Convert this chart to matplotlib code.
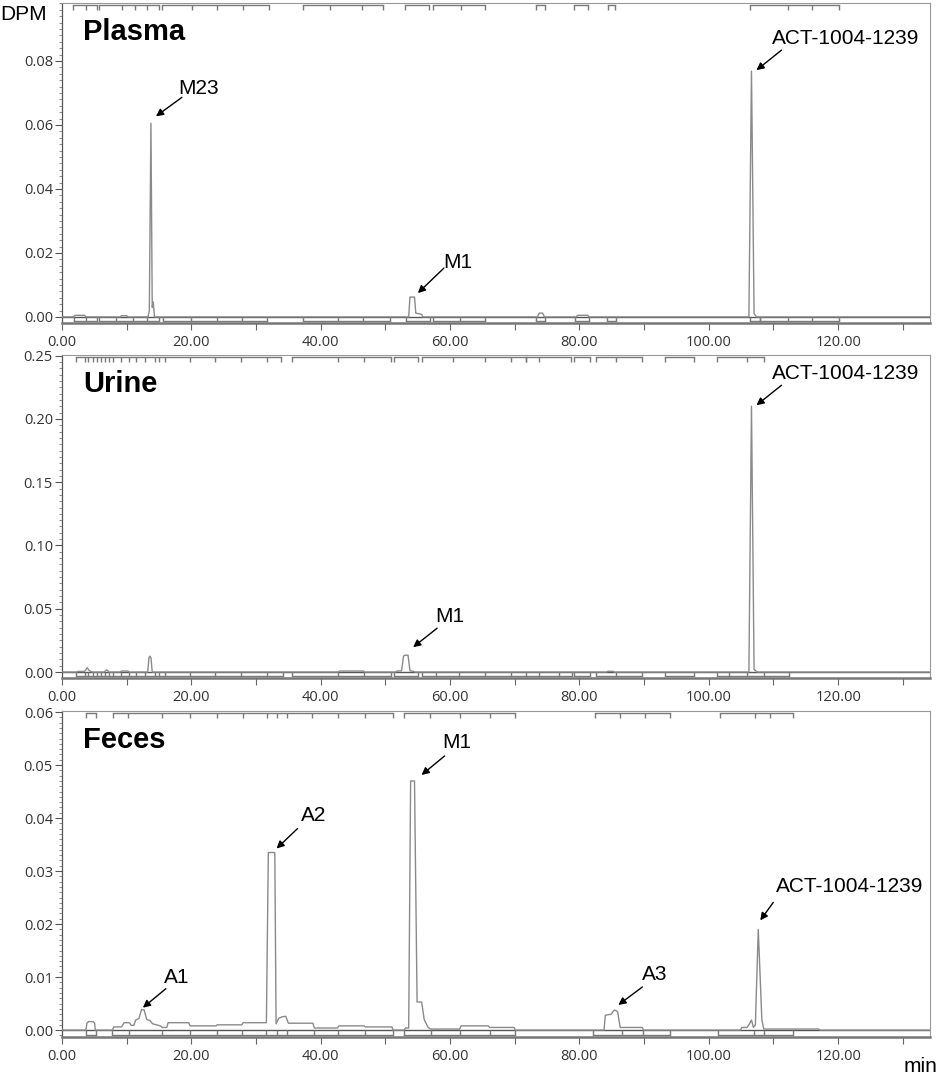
import numpy as np
import matplotlib
matplotlib.use('Agg')
import matplotlib.pyplot as plt
from matplotlib.ticker import MultipleLocator, FuncFormatter
from matplotlib.transforms import offset_copy

# radio-chromatogram traces, (time in min, DPM) breakpoints
plasma_t = [0, 1.8, 2.0, 3.5, 3.7, 9.0, 9.2, 10.0, 10.2, 13.3, 13.5, 13.75, 13.95, 14.1, 14.3,
            53.6, 53.8, 54.5, 54.7, 55.6, 55.8, 73.5, 73.8, 74.3, 74.6, 79.5, 79.7, 81.3, 81.5,
            106.2, 106.6, 107.0, 107.4, 134.2]
plasma_v = [0, 0, 0.0005, 0.0005, 0, 0, 0.0004, 0.0004, 0, 0, 0.002, 0.0605, 0.003, 0.0047, 0,
            0, 0.0062, 0.0062, 0.0012, 0.0008, 0, 0, 0.0012, 0.0012, 0, 0, 0.0005, 0.0005, 0,
            0, 0.0768, 0.001, 0, 0]

urine_t = [0, 2.2, 2.5, 3.4, 3.6, 3.9, 4.2, 4.5, 4.8, 6.5, 6.9, 7.3, 9.0, 9.2, 10.2, 10.4,
           13.25, 13.45, 13.6, 13.75, 13.95, 42.7, 42.9, 46.6, 46.8, 51.6, 51.8, 52.5, 52.8, 53.0,
           53.5, 53.8, 54.4, 54.6, 84.2, 84.4, 85.2, 85.4, 106.2, 106.6, 107.0, 107.5, 134.2]
urine_v = [0, 0, 0.0005, 0.0005, 0.0012, 0.0034, 0.0012, 0.0004, 0, 0, 0.0018, 0, 0, 0.0008, 0.0008, 0,
           0, 0.0115, 0.0125, 0.0115, 0, 0, 0.0008, 0.0008, 0, 0, 0.0009, 0.0009, 0.0125, 0.0133,
           0.0133, 0.001, 0.0005, 0, 0, 0.0006, 0.0006, 0, 0, 0.21, 0.002, 0, 0]

feces_t = [0, 3.7, 3.85, 4.1, 4.8, 5.05, 5.15, 7.8, 8.0, 9.2, 9.6, 10.4, 10.7, 11.1, 11.4, 11.9,
           12.3, 12.7, 13.1, 13.6, 14.0, 15.2, 15.5, 16.2, 16.4, 19.6, 19.8, 23.8, 24.0, 27.8, 28.0,
           31.6, 31.9, 32.9, 33.1, 33.5, 34.0, 34.6, 35.0, 38.8, 39.0, 42.6, 42.8, 46.7, 46.9, 51.0,
           51.2, 52.9, 53.1, 53.6, 53.9, 54.5, 54.9, 55.6, 56.0, 56.6, 57.0, 61.5, 61.7, 65.9, 66.1,
           69.9, 70.1, 83.8, 84.0, 84.9, 85.4, 85.9, 86.3, 89.7, 89.9, 104.9, 105.1, 105.9, 106.2,
           106.6, 106.9, 107.2, 107.65, 108.2, 108.5, 117.0, 117.2, 134.2]
feces_v = [0, 0, 0.0013, 0.0016, 0.0016, 0.0013, 0, 0, 0.0006, 0.0006, 0.0014, 0.0014, 0.0009, 0.0009, 0.0019, 0.0022,
           0.0039, 0.0038, 0.002, 0.0018, 0.0012, 0.0008, 0.0005, 0.0005, 0.0014, 0.0014, 0.0008, 0.0008, 0.001, 0.001, 0.0014,
           0.0014, 0.0335, 0.0335, 0.0012, 0.0022, 0.0025, 0.0026, 0.0013, 0.0013, 0.0004, 0.0004, 0.0008, 0.0008, 0.0006, 0.0006,
           0, 0, 0.0004, 0.0004, 0.047, 0.047, 0.0053, 0.0053, 0.002, 0.0005, 0.0002, 0.0002, 0.0008, 0.0008, 0.0005,
           0.0005, 0, 0, 0.0028, 0.003, 0.0038, 0.0035, 0.0005, 0.0005, 0, 0, 0.0005, 0.0005, 0.001,
           0.0019, 0.0005, 0.001, 0.019, 0.002, 0.0002, 0.0002, 0, 0]

# integration-region brackets (min), ticks at each boundary
plasma_top = [[1.7, 3.7, 5.4], [5.7, 9.3, 11.3, 13.1, 15.0], [15.5, 20.1, 24.0, 28.0, 32.0],
              [37.2, 41.4, 46.4, 49.7], [53.0, 56.8], [57.3, 61.7, 65.4], [73.3, 74.7],
              [79.2, 81.4], [84.4, 85.5], [106.3, 112.2, 115.9, 120.1]]
plasma_bot = [[1.9, 3.7, 5.4], [5.7, 8.3, 11.0, 13.1, 15.0], [15.6, 19.9, 23.9, 27.9, 31.7],
              [37.2, 42.7, 46.5, 50.7], [53.2, 56.9], [57.3, 61.5, 65.4], [73.3, 74.7],
              [79.3, 81.5], [84.2, 85.6], [106.3, 107.9], [107.9, 112.2, 115.9, 120.1]]
urine_dense = [2.1, 3.5, 4.05, 4.76, 5.47, 6.0, 6.63, 7.25, 7.87, 9.11, 10.35, 11.5, 12.84, 14.35, 15.06, 15.94]
urine_top = [urine_dense + [19.8, 23.7, 27.7, 31.7, 33.9], [35.6, 42.7, 46.7, 50.9], [51.4, 55.0],
             [55.6, 60.5, 65.4, 69.4, 71.8], [71.8, 73.8, 78.7], [79.1, 81.6], [82.5, 85.6, 89.6],
             [93.3, 97.7], [101.3, 105.9, 108.6]]
urine_bot = [urine_dense + [19.8, 23.7, 27.7, 31.7, 34.1], [35.6, 42.7, 46.7, 50.9], [51.4, 55.0],
             [55.6, 57.8, 61.4, 65.4, 69.4, 71.8, 73.8, 76.9, 78.9], [79.1, 81.6], [82.5, 85.6, 89.6],
             [93.3, 97.7], [101.3, 103.1, 105.9, 108.6, 112.4]]
feces_top = [[3.7, 5.3], [7.9, 10.2, 15.5, 19.8, 24.0, 28.0, 31.7, 33.2, 34.8, 38.6, 42.7, 46.8, 51.2],
             [52.9, 56.9, 61.6, 66.1, 70.0], [82.4, 86.2, 90.1, 94.0], [101.7, 107.1, 109.4, 113.0]]
feces_bot = [[3.7, 5.3], [7.8, 10.3, 15.4, 19.8, 23.9, 27.9, 31.6, 33.2, 34.8, 39.0, 42.7, 46.8, 51.1],
             [52.9, 57.1, 61.6, 66.1, 70.0], [82.1, 86.6, 89.8, 94.0], [101.5, 107.0, 108.5, 113.0]]

# peak labels: text, peak time, text centre / arrow start / arrow tip offsets in pixels
plasma_labels = [('M23', 13.75, (48, 35), (31, 26), (5, 7)),
                 ('M1', 54.1, (46, 35), (32, 29), (6, 4)),
                 ('ACT-1004-1239', 106.6, (94, 33), (30, 21), (5, 1))]
urine_labels = [('M1', 53.2, (44, 39), (31, 27), (7, 8)),
                ('ACT-1004-1239', 106.6, (94, 33), (30, 21), (5, 1))]
feces_labels = [('A1', 12.5, (34, 32), (23, 21), (0, 2)),
                ('A2', 32.4, (42, 37), (26, 24), (5, 4)),
                ('M1', 54.2, (44, 38), (32, 25), (9, 6)),
                ('A3', 85.4, (40, 35), (28, 23), (4, 5)),
                ('ACT-1004-1239', 107.65, (91, 43), (15, 27), (2, 9))]

W, H = 941, 1075
fig = plt.figure(figsize=(W / 100, H / 100), dpi=100)
XMAX = 134.2
LEFT, RIGHT = 62, 930
lab_font = 'Liberation Sans'
tick_font = 'Open Sans'

panels = [
    ('Plasma', plasma_t, plasma_v, 3, 323, (-0.0019, 0.0981), 0.02, 0.002, plasma_top, plasma_bot, plasma_labels),
    ('Urine', urine_t, urine_v, 355, 678, (-0.0047, 0.2505), 0.05, 0.005, urine_top, urine_bot, urine_labels),
    ('Feces', feces_t, feces_v, 711, 1037, (-0.0013, 0.0602), 0.01, 0.001, feces_top, feces_bot, feces_labels),
]

for name, tt, vv, top, bot, ylim, ymaj, ymin, btop, bbot, labels in panels:
    ax = fig.add_axes([LEFT / W, 1 - bot / H, (RIGHT - LEFT) / W, (bot - top) / H])
    hpx = bot - top
    ax.set_xlim(0, XMAX)
    ax.set_ylim(*ylim)

    ax.axhline(0, color='#555555', lw=1.0, zorder=2)
    ax.plot(tt, vv, color='#8a8a8a', lw=1.0, zorder=3)

    # brackets
    tr = ax.get_xaxis_transform()
    base = -ylim[0] / (ylim[1] - ylim[0])
    for groups, yl, yt in [(btop, 1 - 2 / hpx, 1 - 7 / hpx), (bbot, 2 / hpx, base)]:
        for g in groups:
            ax.plot([g[0], g[-1]], [yl, yl], transform=tr, color='#7a7a7a', lw=1.0)
            ax.vlines(g, yl, yt, transform=tr, color='#7a7a7a', lw=1.0)

    for s in ['top', 'right']:
        ax.spines[s].set_color('#999999')
        ax.spines[s].set_linewidth(0.8)
    ax.spines['left'].set_color('#555555')
    ax.spines['left'].set_linewidth(0.9)
    ax.spines['bottom'].set_color('#777777')
    ax.spines['bottom'].set_linewidth(1.8)

    ax.yaxis.set_major_locator(MultipleLocator(ymaj))
    ax.yaxis.set_minor_locator(MultipleLocator(ymin))
    ax.yaxis.set_major_formatter(FuncFormatter(lambda v, p: '%.2f' % v if v > -1e-9 else ''))
    ax.xaxis.set_major_locator(MultipleLocator(10))
    ax.xaxis.set_major_formatter(FuncFormatter(lambda v, p: '%.2f' % v if round(v) % 20 == 0 else ''))
    ax.tick_params(axis='y', which='major', length=5, width=0.8, color='#555555', pad=1.5,
                   labelsize=10.5, labelcolor='#333333')
    ax.tick_params(axis='y', which='minor', length=2.5, width=0.6, color='#777777')
    ax.tick_params(axis='x', which='major', length=5, width=0.8, color='#666666', pad=3.5,
                   labelsize=10.5, labelcolor='#333333')
    for lab in ax.get_xticklabels() + ax.get_yticklabels():
        lab.set_fontfamily(tick_font)

    ax.text(0, 1, name, transform=offset_copy(ax.transAxes, fig, x=21, y=-37, units='dots'),
            fontsize=21, fontweight='bold', family=lab_font, ha='left', va='baseline')

    for text, t, toff, soff, aoff in labels:
        h = np.interp(t, tt, vv)
        ax.annotate('', xy=(t, h), xycoords=offset_copy(ax.transData, fig, x=aoff[0], y=aoff[1], units='dots'),
                    xytext=(t, h), textcoords=offset_copy(ax.transData, fig, x=soff[0], y=soff[1], units='dots'),
                    arrowprops=dict(arrowstyle='-|>', color='black', lw=1.0, mutation_scale=11,
                                    shrinkA=0, shrinkB=0))
        ax.text(t, h, text, transform=offset_copy(ax.transData, fig, x=toff[0], y=toff[1], units='dots'),
                fontsize=15, family=lab_font, ha='center', va='center')

fig.text(0.0, 1 - 20 / H, 'DPM', fontsize=15, family=lab_font, ha='left', va='baseline')
fig.text(937 / W, 1 - 1072 / H, 'min', fontsize=15, family=lab_font, ha='right', va='baseline')

fig.savefig('out.png', dpi=100)
